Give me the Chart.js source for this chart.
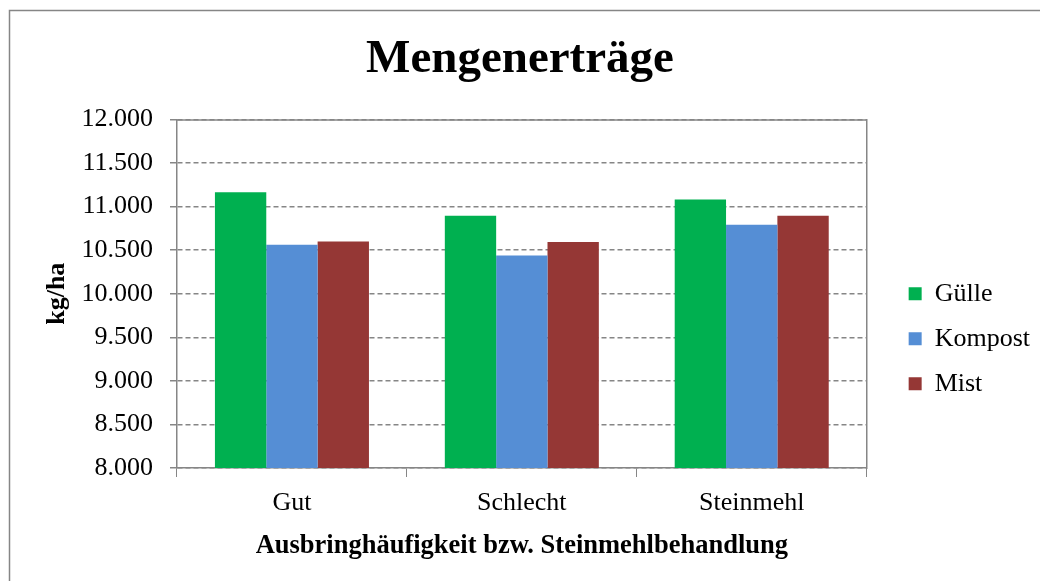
<!DOCTYPE html>
<html lang="de">
<head>
  <meta charset="UTF-8">
  <title>Mengenerträge</title>
  <script src="https://cdn.jsdelivr.net/npm/chart.js"></script>
  <style>
    body{margin:0;background:#fff;}
    #wrap{width:1040px;height:581px;position:relative;}
  </style>
</head>
<body>
  <div id="wrap"><canvas id="chart" width="1040" height="581"></canvas></div>
  <script>
    // values
    const categories = ['Gut', 'Schlecht', 'Steinmehl'];
    const guelle  = [11165, 10894, 11080];
    const kompost = [10562, 10439, 10790];
    const mist    = [10600, 10593, 10894];
    const yTicks  = [8000, 8500, 9000, 9500, 10000, 10500, 11000, 11500, 12000];

    const grey = '#868686';
    Chart.defaults.font.family = '"Liberation Serif", "Times New Roman", serif';
    Chart.defaults.color = '#000';

    function fmt(v){ return String(v).replace(/\B(?=(\d{3})+(?!\d))/g, '.'); }

    // frame line and top border of the plot area
    const frame = {
      id: 'frame',
      afterDraw(chart){
        const c = chart.ctx, a = chart.chartArea;
        c.save();
        c.strokeStyle = grey;
        c.lineWidth = 1.5;
        c.beginPath();
        c.moveTo(9.5, 581); c.lineTo(9.5, 10.5); c.lineTo(1040, 10.5);
        c.stroke();
        c.beginPath();
        c.moveTo(a.left, a.top + 0.5); c.lineTo(a.right, a.top + 0.5);
        c.stroke();
        c.restore();
      }
    };

    new Chart(document.getElementById('chart'), {
      type: 'bar',
      data: {
        labels: categories,
        datasets: [
          {label: 'Gülle',   data: guelle,  backgroundColor: '#00B050'},
          {label: 'Kompost', data: kompost, backgroundColor: '#558ED5'},
          {label: 'Mist',    data: mist,    backgroundColor: '#953735'}
        ]
      },
      options: {
        responsive: false,
        animation: false,
        datasets: {bar: {barPercentage: 1, categoryPercentage: 0.67, borderWidth: 0}},
        layout: {padding: {left: 0, right: 0, top: 0, bottom: 19}},
        plugins: {
          title: {
            display: true,
            text: 'Mengenerträge',
            font: {size: 47, weight: 'bold'},
            color: '#000',
            padding: {top: 32, bottom: 31}
          },
          legend: {
            position: 'right',
            fullSize: false,
            title: {display: true, text: '', font: {size: 10}, padding: {top: 78, bottom: 0}},
            labels: {boxWidth: 13, boxHeight: 13, padding: 19, font: {size: 26}, color: '#000'}
          },
          tooltip: {enabled: false}
        },
        scales: {
          x: {
            grid: {drawOnChartArea: false, drawTicks: true, tickLength: 9, color: grey, offset: true},
            border: {display: true, color: grey, width: 1.5},
            ticks: {font: {size: 26}, padding: 11, color: '#000'},
            title: {display: true, text: 'Ausbringhäufigkeit bzw. Steinmehlbehandlung',
                    font: {size: 26.5, weight: 'bold'}, color: '#000', padding: {top: 0, bottom: 0}}
          },
          y: {
            min: 8000, max: 12000,
            afterBuildTicks: s => { s.ticks = yTicks.map(v => ({value: v})); },
            afterFit: s => { s.width = 177; },
            grid: {color: grey, lineWidth: 1.5, tickLength: 7,
                   tickColor: grey, tickBorderDash: [], tickWidth: 1.5},
            border: {display: true, color: grey, width: 1.5, dash: [5, 3]},
            ticks: {font: {size: 26}, padding: 17, color: '#000', callback: v => fmt(v)},
            title: {display: true, text: 'kg/ha', font: {size: 26, weight: 'bold'}, color: '#000',
                    padding: {top: 42, bottom: 0}}
          },
          y2: {
            position: 'right',
            min: 8000, max: 12000,
            grid: {drawOnChartArea: false, drawTicks: false},
            border: {display: true, color: grey, width: 1.5},
            ticks: {display: false},
            afterFit: s => { s.width = 23; }
          }
        }
      },
      plugins: [frame]
    });
  </script>
</body>
</html>
